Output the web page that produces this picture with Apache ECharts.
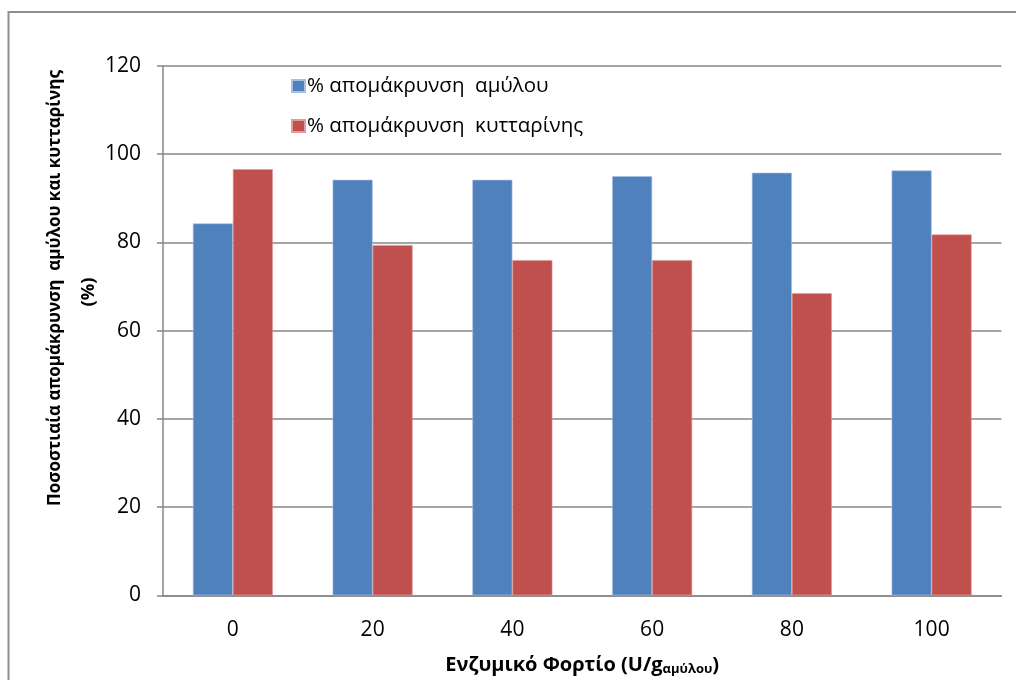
<!DOCTYPE html>
<html>
<head>
<meta charset="utf-8">
<script src="https://cdn.jsdelivr.net/npm/echarts@6/dist/echarts.min.js"></script>
<style>
  html, body { margin: 0; padding: 0; background: #ffffff; }
  #chart { width: 1016px; height: 680px; }
</style>
</head>
<body>
<div id="chart"></div>
<script>
// Enzyme loading (U/g of starch) on the category axis
const loadings = ['0', '20', '40', '60', '80', '100'];
// % starch removal
const starchRemoval = [84.3, 94.2, 94.2, 95.0, 95.8, 96.3];
// % cellulose removal
const celluloseRemoval = [96.6, 79.4, 76.0, 76.0, 68.5, 81.8];
// value-axis ticks
const yTicks = [0, 20, 40, 60, 80, 100, 120];

const seriesNames = ['% απομάκρυνση  αμύλου', '% απομάκρυνση  κυτταρίνης'];
const yTitle = 'Ποσοστιαία απομάκρυνση  αμύλου και κυτταρίνης';
const yTitle2 = '(%)';

const FONT = '"Open Sans", "Noto Sans", sans-serif';
const GRID_COLOR = '#878787';

const chart = echarts.init(document.getElementById('chart'), null, { renderer: 'canvas' });

chart.setOption({
  animation: false,
  backgroundColor: '#ffffff',
  textStyle: { fontFamily: FONT, color: '#000000' },
  grid: { left: 163, top: 66, right: 14.5, bottom: 84.7, containLabel: false, outerBoundsMode: 'none' },
  legend: {
    orient: 'vertical',
    left: 291,
    top: 75,
    padding: 0,
    itemWidth: 13,
    itemHeight: 12,
    itemGap: 18,
    icon: 'rect',
    textStyle: { fontFamily: FONT, fontSize: 20.5, color: '#000', lineHeight: 22, padding: [0, 0, 0, -3] },
    data: seriesNames
  },
  xAxis: {
    type: 'category',
    data: loadings,
    axisLine: { show: true, lineStyle: { color: GRID_COLOR, width: 1.5 } },
    axisTick: { show: false },
    axisLabel: { fontFamily: FONT, fontSize: 21, color: '#000', margin: 24 },
    name: '{b|Ενζυμικό Φορτίο (U/g}{s|αμύλου}{b|)}',
    nameLocation: 'middle',
    nameGap: 60,
    nameTextStyle: {
      rich: {
        b: { fontFamily: FONT, fontSize: 20, fontWeight: 'bold', color: '#000' },
        s: { fontFamily: FONT, fontSize: 13, fontWeight: 'bold', color: '#000', verticalAlign: 'bottom', padding: [7, 0, 0, 0] }
      }
    }
  },
  yAxis: {
    type: 'value',
    min: yTicks[0],
    max: yTicks[yTicks.length - 1],
    interval: yTicks[1] - yTicks[0],
    axisLine: { show: true, lineStyle: { color: GRID_COLOR, width: 1.5 } },
    axisTick: { show: true, inside: false, length: 6, lineStyle: { color: GRID_COLOR, width: 1.5 } },
    axisLabel: { fontFamily: FONT, fontSize: 21, color: '#000', margin: 22 },
    splitLine: { show: true, lineStyle: { color: GRID_COLOR, width: 1.5 } }
  },
  series: [
    {
      name: seriesNames[0],
      type: 'bar',
      data: starchRemoval,
      barWidth: 40,
      barGap: '0%',
      itemStyle: { color: '#4F81BD', borderColor: '#a9c0e2', borderWidth: 0.6 }
    },
    {
      name: seriesNames[1],
      type: 'bar',
      data: celluloseRemoval,
      barWidth: 40,
      itemStyle: { color: '#C0504D', borderColor: '#e39a98', borderWidth: 0.6 }
    }
  ],
  graphic: [
    {
      type: 'rect',
      silent: true,
      shape: { x: 8.5, y: 12, width: 1200, height: 1000 },
      style: { fill: 'none', stroke: '#8f8f8f', lineWidth: 2 }
    },
    {
      type: 'text',
      silent: true,
      x: 55, y: 288,
      rotation: Math.PI / 2,
      scaleX: 0.92,
      style: {
        text: yTitle,
        font: 'bold 18.5px ' + FONT,
        fill: '#000',
        align: 'center',
        verticalAlign: 'middle'
      }
    },
    {
      type: 'text',
      silent: true,
      x: 89, y: 292,
      rotation: Math.PI / 2,
      style: {
        text: yTitle2,
        font: 'bold 18.5px ' + FONT,
        fill: '#000',
        align: 'center',
        verticalAlign: 'middle'
      }
    }
  ]
});
</script>
</body>
</html>
